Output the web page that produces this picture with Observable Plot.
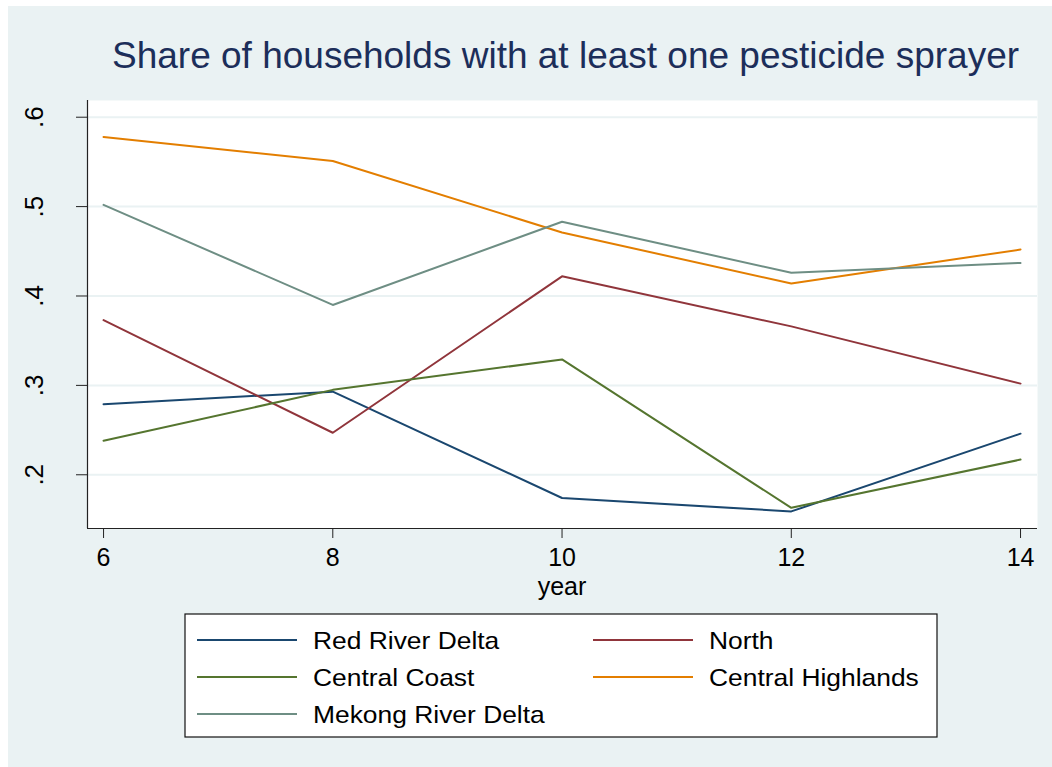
<!DOCTYPE html>
<html>
<head>
<meta charset="utf-8">
<script src="https://cdn.jsdelivr.net/npm/d3@7"></script>
<script src="https://cdn.jsdelivr.net/npm/@observablehq/plot@0.6"></script>
<style>
  html, body { margin: 0; padding: 0; background: #ffffff; }
  #page { position: relative; width: 1052px; height: 767px; overflow: hidden; font-family: "Liberation Sans", Arial, sans-serif; }
  #bg { position: absolute; left: 8px; top: 6px; right: 0; bottom: 0; background: #EAF2F3; }
  #chart { position: absolute; left: 0; top: 0; }
  #overlay { position: absolute; left: 0; top: 0; }
</style>
</head>
<body>
<div id="page">
  <div id="bg"></div>
  <div id="chart"></div>
  <svg id="overlay" width="1052" height="767"></svg>
</div>
<script>
// ---------- data ----------
const title = "Share of households with at least one pesticide sprayer";
const xLabel = "year";
const years = [6, 8, 10, 12, 14];
const regions = ["Red River Delta", "North", "Central Coast", "Central Highlands", "Mekong River Delta"];
const colors = ["#1A476F", "#90353B", "#55752F", "#E37E00", "#6E8E84"];
const redRiverDelta    = [0.279, 0.293, 0.174, 0.159, 0.246];
const north            = [0.373, 0.247, 0.422, 0.366, 0.302];
const centralCoast     = [0.238, 0.295, 0.329, 0.163, 0.217];
const centralHighlands = [0.578, 0.551, 0.471, 0.414, 0.452];
const mekongRiverDelta = [0.502, 0.390, 0.483, 0.426, 0.437];
const xTicks = [6, 8, 10, 12, 14];
const xTickLabels = ["6", "8", "10", "12", "14"];
const yTicks = [0.2, 0.3, 0.4, 0.5, 0.6];
const yTickLabels = [".2", ".3", ".4", ".5", ".6"];

const series = [redRiverDelta, north, centralCoast, centralHighlands, mekongRiverDelta];
const data = regions.flatMap((r, i) => years.map((yr, j) => ({region: r, year: yr, share: series[i][j]})));

const xDomain = [5.86, 14.148];
const yDomain = [0.1399, 0.6187];

const plot = Plot.plot({
  width: 1052,
  height: 610,
  marginLeft: 87,
  marginRight: 15,
  marginTop: 100,
  marginBottom: 82,
  style: {background: "transparent", fontFamily: "Liberation Sans, Arial, sans-serif", fontSize: "25px", color: "#000", overflow: "visible"},
  x: {domain: xDomain},
  y: {domain: yDomain},
  color: {domain: regions, range: colors},
  marks: [
    Plot.frame({fill: "white", stroke: "none"}),
    Plot.ruleY(yTicks, {stroke: "#EAF2F3", strokeWidth: 2}),
    Plot.line(data, {x: "year", y: "share", z: "region", stroke: "region", strokeWidth: 2}),
    Plot.ruleX([xDomain[0]], {stroke: "#222", strokeWidth: 1.2}),
    Plot.ruleY([yDomain[0]], {stroke: "#222", strokeWidth: 1.2}),
    Plot.axisX({ticks: xTicks, tickSize: 10, tickPadding: 10, stroke: "#222", label: null,
      tickFormat: d => xTickLabels[xTicks.indexOf(d)], fontSize: 25}),
    Plot.axisY({ticks: yTicks, tickSize: 11, tickPadding: 34, tickRotate: -90, stroke: "#222", label: null,
      textAnchor: "middle", lineAnchor: "bottom",
      tickFormat: d => yTickLabels[yTicks.indexOf(d)], fontSize: 26})
  ]
});
document.getElementById("chart").appendChild(plot);

// ---------- title, axis title, legend ----------
const svg = d3.select("#overlay");
svg.append("text")
  .attr("x", 112).attr("y", 68)
  .attr("font-family", "Liberation Sans, Arial, sans-serif")
  .attr("font-size", 37)
  .attr("fill", "#1C2E5A")
  .text(title);

svg.append("text")
  .attr("x", 562).attr("y", 595)
  .attr("text-anchor", "middle")
  .attr("font-family", "Liberation Sans, Arial, sans-serif")
  .attr("font-size", 25)
  .attr("fill", "#000")
  .text(xLabel);

const legend = svg.append("g");
legend.append("rect")
  .attr("x", 185).attr("y", 614).attr("width", 752).attr("height", 123)
  .attr("fill", "white").attr("stroke", "#111").attr("stroke-width", 1.2);

regions.forEach((r, i) => {
  const col = i % 2, row = Math.floor(i / 2);
  const lx = col === 0 ? 197 : 593;
  const ly = 640 + row * 37;
  legend.append("line")
    .attr("x1", lx).attr("x2", lx + 100).attr("y1", ly).attr("y2", ly)
    .attr("stroke", colors[i]).attr("stroke-width", 2);
  legend.append("text")
    .attr("transform", `translate(${lx + 116},${ly + 9}) scale(1.1,1)`)
    .attr("font-family", "Liberation Sans, Arial, sans-serif")
    .attr("font-size", 24)
    .attr("fill", "#000")
    .text(r);
});
</script>
</body>
</html>
